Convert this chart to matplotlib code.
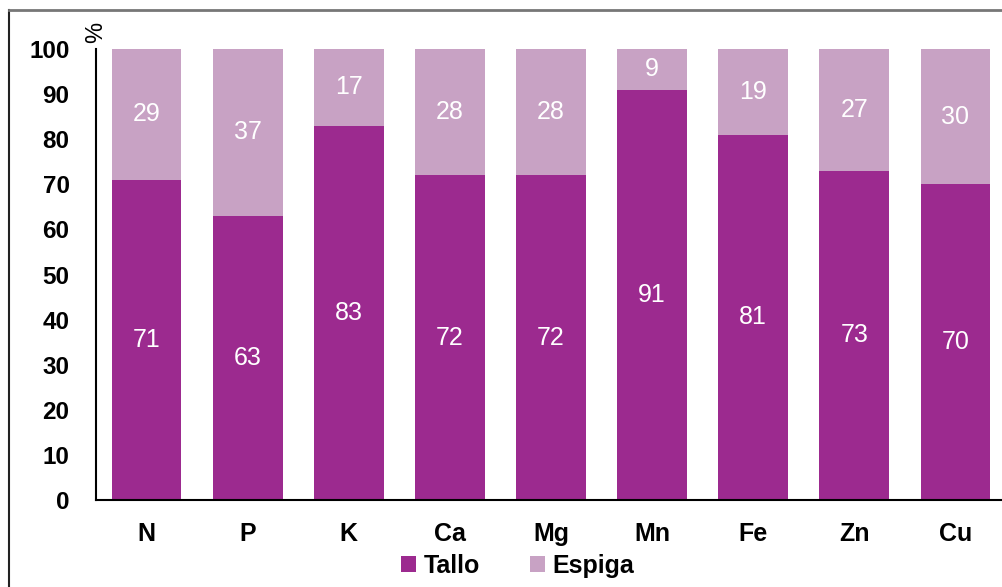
import matplotlib
matplotlib.use("Agg")
import matplotlib.pyplot as plt
from matplotlib.lines import Line2D
import numpy as np

plt.rcParams['font.family'] = ['Liberation Sans', 'DejaVu Sans']

categories = ["N", "P", "K", "Ca", "Mg", "Mn", "Fe", "Zn", "Cu"]
tallo = [71, 63, 83, 72, 72, 91, 81, 73, 70]
espiga = [29, 37, 17, 28, 28, 9, 19, 27, 30]
yticks = [0, 10, 20, 30, 40, 50, 60, 70, 80, 90, 100]

c_tallo = "#9C2A8F"
c_espiga = "#C8A2C4"

W, H = 1002, 587
fig = plt.figure(figsize=(W/100, H/100), dpi=100)
ax = fig.add_axes([96/W, (H-500)/H, 910/W, 451/H])

x = np.arange(len(categories))
b1 = ax.bar(x, tallo, width=0.69, color=c_tallo, label="Tallo")
b2 = ax.bar(x, espiga, width=0.69, bottom=tallo, color=c_espiga, label="Espiga")

for xi, t, e in zip(x, tallo, espiga):
    ax.text(xi, t/2, f"{t}", ha="center", va="center", color="white", fontsize=18)
    ax.text(xi, t + e/2, f"{e}", ha="center", va="center", color="white", fontsize=18)

ax.set_xlim(-0.5, len(categories) - 0.5)
ax.set_ylim(0, 100)
ax.set_yticks(yticks)
ax.set_yticklabels([str(v) for v in yticks], fontsize=17.5, fontweight="bold")
ax.set_xticks(x)
ax.set_xticklabels(categories, fontsize=18, fontweight="bold")
ax.tick_params(axis="both", length=0)
ax.tick_params(axis="y", pad=19)
ax.tick_params(axis="x", pad=16)
for s in ["top", "right"]:
    ax.spines[s].set_visible(False)
for s in ["left", "bottom"]:
    ax.spines[s].set_linewidth(1.5)
    ax.spines[s].set_color("black")

fig.text(96/W, 1 - 32/H, "%", rotation=90, ha="center", va="center", fontsize=17)

leg = fig.legend(handles=[b1, b2], labels=["Tallo", "Espiga"], loc="center",
                 bbox_to_anchor=(518/W, 1 - 566/H), ncol=2, frameon=False,
                 prop={"size": 18, "weight": "bold"}, handlelength=0.6,
                 handleheight=0.6, handletextpad=0.3, columnspacing=2.0)

fig.add_artist(Line2D([9/W, 9/W], [0, 1 - 10/H], transform=fig.transFigure, color="#222222", lw=1.5))
fig.add_artist(Line2D([9/W, 1], [1 - 10/H, 1 - 10/H], transform=fig.transFigure, color="#777777", lw=2))

fig.savefig("out.png", dpi=100)
